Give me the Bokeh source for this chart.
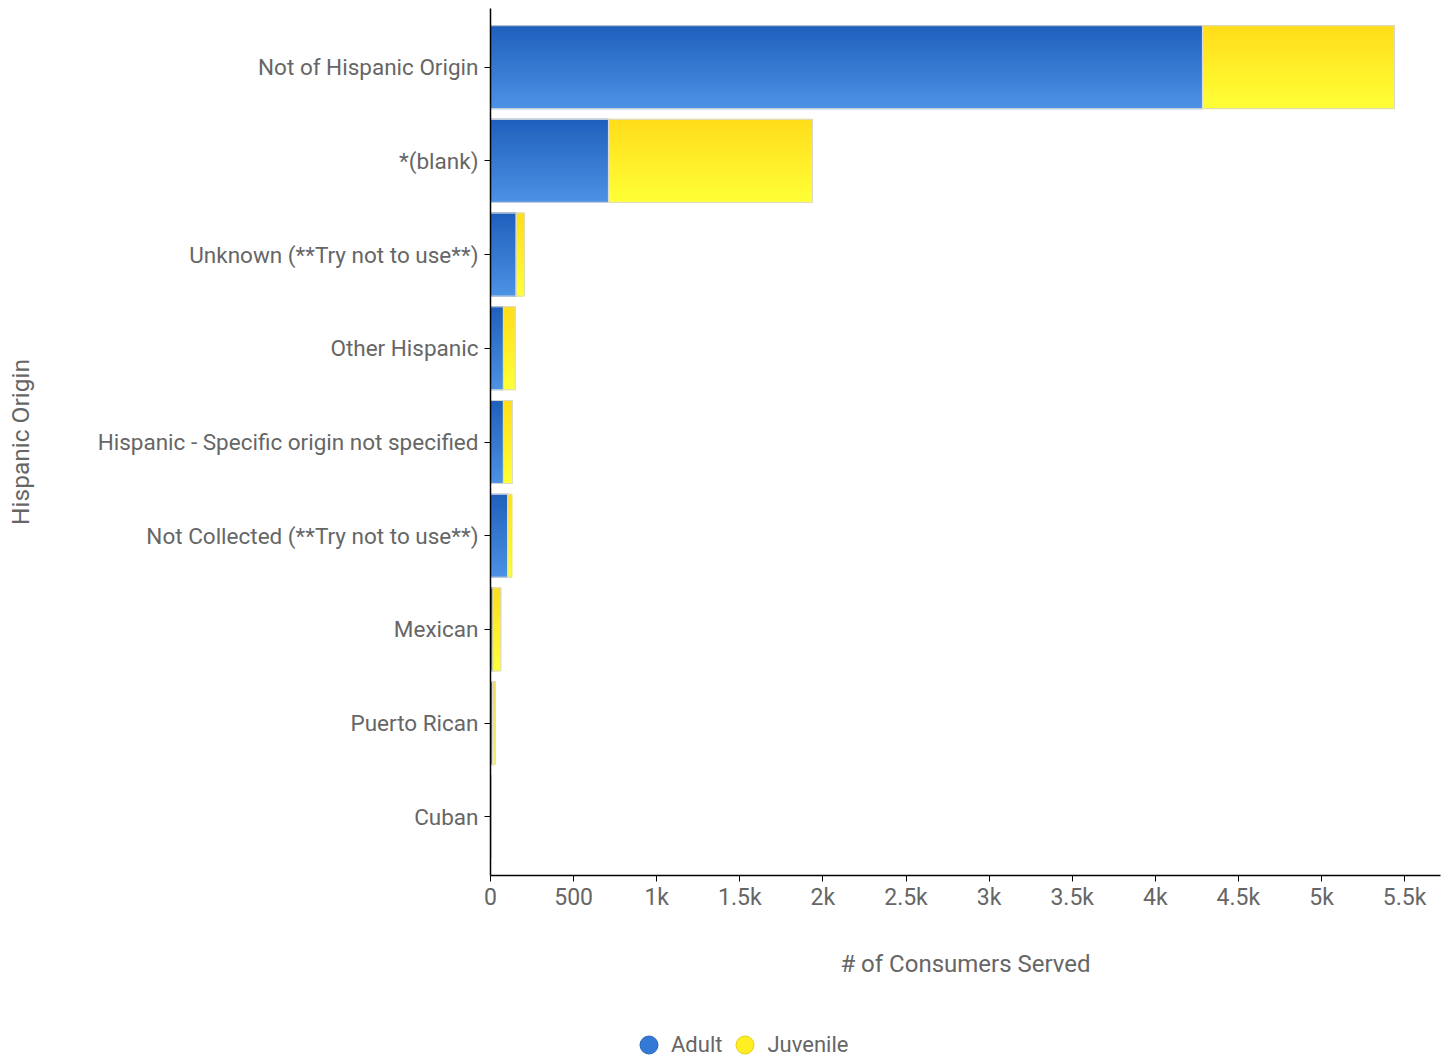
from bokeh.plotting import figure
from bokeh.layouts import column
from bokeh.models import (FactorRange, Range1d, ColumnDataSource, NumeralTickFormatter,
                          SingleIntervalTicker, Legend, LegendItem)
from bokeh.transform import dodge
from bokeh.embed import file_html
from bokeh.resources import INLINE

categories = ["Not of Hispanic Origin", "*(blank)", "Unknown (**Try not to use**)",
              "Other Hispanic", "Hispanic - Specific origin not specified",
              "Not Collected (**Try not to use**)", "Mexican", "Puerto Rican", "Cuban"]
adult = [4284, 710, 155, 78, 78, 104, 16, 12, 1]
juvenile = [1155, 1227, 48, 71, 54, 24, 46, 16, 1]
series = ["Adult", "Juvenile"]

FONT = "Roboto"
TXT = "#666666"

def lerp(c1, c2, t):
    a = [int(c1[i:i+2], 16) for i in (1, 3, 5)]
    b = [int(c2[i:i+2], 16) for i in (1, 3, 5)]
    return "#%02x%02x%02x" % tuple(round(a[k] + (b[k] - a[k]) * t) for k in range(3))

grad = {"Adult": ("#1f60bc", "#4b91e4"), "Juvenile": ("#ffdd1a", "#ffff36")}

left_adult = [0] * len(adult)
right_adult = adult
left_juv = adult
right_juv = [a + j for a, j in zip(adult, juvenile)]

src = ColumnDataSource(dict(cat=categories, la=left_adult, ra=right_adult,
                            lj=left_juv, rj=right_juv))

XMAX = 5716
p = figure(frame_width=950, frame_height=867, output_backend="svg", toolbar_location=None,
           y_range=FactorRange(*list(reversed(categories)), range_padding=0.028),
           x_range=Range1d(0, XMAX),
           min_border_left=490, min_border_right=10, min_border_top=8, min_border_bottom=125)
p.outline_line_color = None
p.xgrid.visible = False
p.ygrid.visible = False

BAR_H = 0.885
N = 42
sh = BAR_H / N
for sname, lcol, rcol in (("Adult", "la", "ra"), ("Juvenile", "lj", "rj")):
    c_top, c_bot = grad[sname]
    for i in range(N):
        off = BAR_H / 2 - sh * (i + 0.5)
        col = lerp(c_top, c_bot, i / (N - 1))
        p.hbar(y=dodge("cat", off, range=p.y_range), left=lcol, right=rcol, height=sh,
               source=src, fill_color=col, line_color=col, line_width=1.2)
    p.hbar(y="cat", left=lcol, right=rcol, height=BAR_H, source=src,
           fill_color=None, line_color="#d9d9d9", line_width=1)

xa = p.xaxis[0]
xa.ticker = SingleIntervalTicker(interval=500)
xa.formatter = NumeralTickFormatter(format="0.[0]a")
xa.axis_label = "# of Consumers Served"
xa.axis_line_color = "#000000"
xa.axis_line_width = 1.5
xa.major_tick_line_color = "#000000"
xa.major_tick_in = 0
xa.major_tick_out = 6
xa.minor_tick_line_color = None
xa.major_label_text_font = FONT
xa.major_label_text_font_size = "23px"
xa.major_label_text_color = TXT
xa.major_label_standoff = 2
xa.axis_label_text_font = FONT
xa.axis_label_text_font_size = "24px"
xa.axis_label_text_font_style = "normal"
xa.axis_label_text_color = TXT
xa.axis_label_standoff = 36

ya = p.yaxis[0]
ya.axis_label = "Hispanic Origin"
ya.axis_line_color = "#000000"
ya.axis_line_width = 1.5
ya.major_tick_line_color = "#000000"
ya.major_tick_in = 0
ya.major_tick_out = 6
ya.minor_tick_line_color = None
ya.major_label_text_font = FONT
ya.major_label_text_font_size = "22.5px"
ya.major_label_text_color = TXT
ya.major_label_standoff = 6
ya.axis_label_text_font = FONT
ya.axis_label_text_font_size = "24.5px"
ya.axis_label_text_font_style = "normal"
ya.axis_label_text_color = TXT
ya.axis_label_standoff = 60

# legend strip below the chart (its own figure, no axes)
lf = figure(width=1450, height=63, output_backend="svg", toolbar_location=None,
            x_range=Range1d(0, 1), y_range=Range1d(0, 1),
            x_axis_location=None, y_axis_location=None,
            min_border_left=0, min_border_right=0, min_border_top=0, min_border_bottom=0)
lf.outline_line_color = None
lf.xgrid.visible = False
lf.ygrid.visible = False
proxy = ColumnDataSource(dict(x=[-1.0], y=[-1.0]))  # outside the strip's range: not visible
r_ad = lf.scatter(x="x", y="y", source=proxy, marker="circle",
                  fill_color="#3479d6", line_color="#2a66b8", size=18)
r_ju = lf.scatter(x="x", y="y", source=proxy, marker="circle",
                  fill_color="#ffee22", line_color="#e6cf10", size=18)
legend = Legend(items=[LegendItem(label=series[0], renderers=[r_ad]),
                       LegendItem(label=series[1], renderers=[r_ju])],
                orientation="horizontal", location=(136, -4),
                label_text_font=FONT, label_text_font_size="22px", label_text_color=TXT,
                glyph_width=45, glyph_height=45, spacing=0, label_standoff=0,
                padding=0, margin=0, border_line_color=None, background_fill_alpha=0)
lf.add_layout(legend, "center")

layout = column(p, lf, spacing=0)
open("out.html", "w").write(file_html(layout, INLINE))
